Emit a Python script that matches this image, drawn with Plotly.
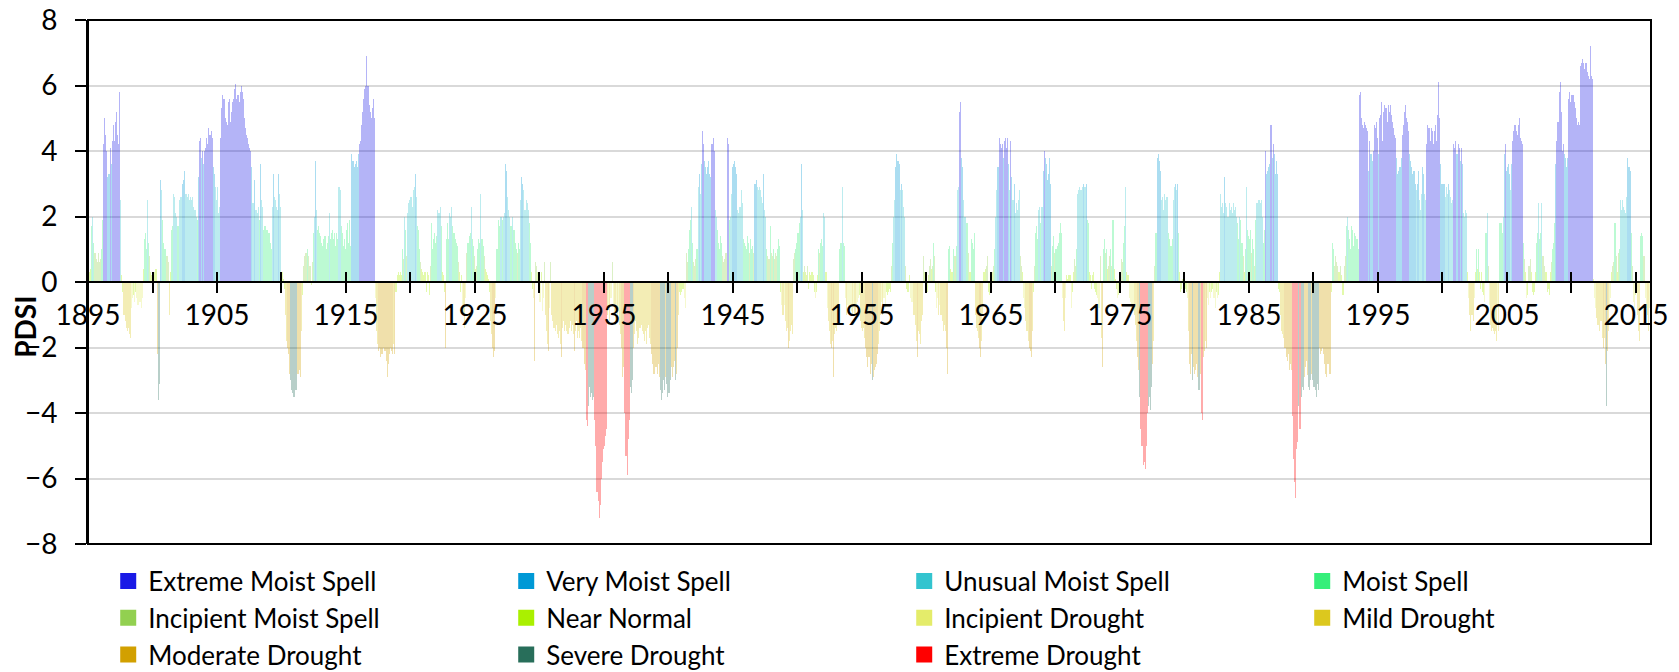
import numpy as np
import plotly.graph_objects as go

start_year = 1895

pdsi_1895_1904 = [
    0.2, 0.3, 0.4, 1.7, 2.0, 1.2, 0.9, 0.7, 0.6, 0.9, 0.6, 0.7,
    1.0, 1.9, 4.2, 5.0, 4.5, 4.0, 3.2, 3.3, 4.1, 3.6, 4.3, 4.8,
    4.3, 4.9, 5.2, 4.5, 4.2, 5.8, 2.5, 0.2, -0.3, -1.0, -1.2, -1.4,
    -1.5, -1.4, -1.6, -1.7, -0.8, -0.5, -0.4, -0.6, -0.3, -0.5, -0.7, -0.6,
    -0.6, -0.8, -0.5, 0.4, 1.3, 1.5, 1.0, 2.5, 1.2, 0.8, 0.3, 0.2,
    0.2, 0.3, 0.4, 0.4, -2.2, -3.6, -3.1, 3.1, 2.8, 1.9, 1.2, 1.0,
    1.0, 0.8, 0.6, -1.0, 0.3, 1.6, 1.7, 2.7, 2.6, 2.1, 2.0, 1.7,
    1.7, 2.5, 2.6, 3.0, 3.1, 3.4, 2.7, 2.7, 2.6, 2.7, 2.5, 2.6,
    2.5, 2.6, 2.3, 2.2, 2.0, 1.9, 3.2, 4.3, 4.4, 3.8, 4.0, 3.6,
    4.0, 4.1, 4.4, 4.2, 4.7, 4.5, 4.6, 4.4, 3.5, 3.3, 2.9, 2.5,
]
pdsi_1905_1914 = [
    2.9, 2.1, 2.3, 4.4, 5.3, 5.7, 5.6, 5.0, 4.9, 4.8, 5.5, 5.6,
    4.9, 5.2, 5.5, 5.6, 5.9, 6.05, 5.6, 5.7, 5.5, 5.8, 6.0, 5.8,
    5.6, 5.0, 4.7, 4.5, 4.4, 4.2, 4.1, 4.0, 3.5, 2.4, 3.1, 2.2,
    2.2, 2.1, 2.3, 1.9, 3.6, 2.5, 2.3, 1.6, 1.7, 1.7, 1.6, 1.5,
    1.5, 1.2, 1.0, 2.3, 3.3, 2.6, 2.5, 2.3, 2.2, 3.3, 2.7, 2.3,
    0.3, 0.1, -0.2, -1.0, -1.8, -2.0, -2.2, -2.8, -3.0, -3.3, -3.4, -3.5,
    -3.5, -3.3, -2.8, -2.8, -2.7, -2.9, -1.5, -0.4, 0.5, 0.8, 0.9, 0.9,
    1.0, 0.8, 0.5, -0.1, 0.6, 1.5, 2.0, 3.7, 2.2, 1.6, 1.7, 1.5,
    1.4, 1.2, 1.1, 1.3, 1.4, 1.0, 1.2, 1.4, 2.1, 1.3, 1.5, 1.6,
    1.3, 1.5, 1.1, 1.5, 1.3, 2.9, 2.8, 1.7, 1.5, 1.1, 1.3, 1.0,
]
pdsi_1915_1924 = [
    1.6, 1.8, 1.2, 1.9, 1.1, 3.9, 3.7, 3.5, 3.6, 3.7, 3.5, 3.9,
    4.2, 4.3, 4.8, 5.2, 5.6, 5.9, 6.0, 6.9, 6.0, 5.4, 5.2, 5.0,
    5.3, 5.6, 5.0, -0.5, -1.5, -1.9, -2.1, -2.0, -2.3, -2.2, -2.0, -2.1,
    -2.1, -2.4, -2.9, -2.5, -2.2, -2.0, -2.1, -2.2, -1.9, -2.2, -0.3, 0.2,
    0.3, 0.2, 0.3, 0.2, 1.0, 0.7, 2.0, 1.6, 0.8, 2.1, 2.4, 2.5,
    2.6, 2.3, 2.8, 2.9, 3.3, 2.6, 1.7, 1.6, 1.0, 0.6, 0.4, 0.3,
    0.2, 0.3, -0.3, 0.3, 0.2, -0.4, 0.5, 1.8, 1.0, 1.3, 1.5, 1.2,
    1.4, 2.2, 2.1, 2.3, 1.7, 0.3, 0.2, -0.3, -2.0, 1.3, 1.8, 1.3,
    2.1, 2.0, 2.3, 1.7, 1.5, 1.3, 1.2, 1.1, 0.6, 0.3, -0.3, 0.2,
    -0.9, -1.0, -1.4, -0.5, 0.9, 1.2, 1.4, 1.5, 2.3, 1.3, 1.1, 0.8,
]
pdsi_1925_1934 = [
    0.4, 0.5, 1.0, 1.3, 1.2, 2.7, 1.3, 1.1, 0.8, 0.4, 0.3, 0.2,
    0.1, -0.3, -1.2, -1.6, -2.0, -2.3, -2.1, -0.5, 1.0, 1.9, 1.7, 2.0,
    2.0, 1.9, 2.0, 2.1, 3.6, 3.4, 2.6, 2.2, 2.0, 1.7, 2.0, 1.6,
    1.6, 1.2, 1.0, 0.9, 1.2, 1.0, 2.5, 3.2, 3.0, 2.8, 2.2, 2.5,
    2.4, 2.2, 1.8, 1.2, 0.3, -0.2, -0.5, -2.4, 0.6, 0.5, 0.3, -0.2,
    -0.6, 0.3, -0.9, -0.5, 0.6, -1.0, -1.5, -1.9, -2.1, -0.8, 0.6, -1.0,
    -1.2, -1.4, -1.5, -1.3, -1.6, -1.7, -1.5, -1.9, -2.3, -1.4, -1.2, -1.5,
    -1.3, -1.5, -1.6, -1.4, -1.2, -1.5, -1.3, -1.6, -2.1, -1.5, -1.2, -1.7,
    -1.5, -1.7, -1.4, -1.8, -2.0, -2.5, -2.7, -4.2, -4.4, -3.8, -3.2, -3.5,
    -3.4, -3.6, -3.5, -4.2, -5.0, -6.4, -6.7, -7.2, -6.8, -6.0, -5.5, -5.1,
]
pdsi_1935_1944 = [
    -5.0, -4.7, -4.5, -1.0, -0.8, -1.2, -0.5, 0.6, -0.7, -1.0, -1.3, -0.9,
    -1.2, -0.9, -1.3, -1.6, -2.0, -2.9, -2.6, -4.0, -5.3, -5.9, -4.8, -4.2,
    -3.2, -3.4, -3.0, -2.0, -1.6, -1.2, -1.5, -1.9, -1.7, -1.4, -1.3, -1.5,
    -1.6, -1.8, -1.5, -1.9, -1.4, -1.3, -1.7, -1.9, -2.2, -2.5, -2.8, -2.6,
    -2.6, -2.8, -2.5, -2.9, -3.3, -3.6, -3.4, -3.0, -3.3, -2.9, -3.1, -3.5,
    -3.4, -3.0, -2.6, -2.9, -2.6, -2.4, -3.0, -2.8, -2.0, -1.0, -0.3, -0.4,
    -0.3, -0.2, -0.5, -0.8, 0.9, 0.6, 1.0, 1.6, 1.9, 2.3, 1.2, 0.6,
    0.5, 0.7, 1.0, 2.9, 3.3, 2.7, 3.6, 4.6, 4.2, 3.7, 3.5, 3.3,
    3.5, 3.7, 3.3, 3.2, 4.2, 4.4, 4.0, 2.2, 2.0, 1.6, 1.2, 1.0,
    1.4, 1.2, 0.8, 0.6, 0.7, 0.9, 4.4, 4.2, 1.9, 2.0, 2.7, 3.5,
]
pdsi_1945_1954 = [
    3.6, 3.7, 3.5, 3.3, 2.2, 2.1, 2.3, 2.8, 2.4, 1.3, 1.2, 1.1,
    1.0, 1.4, 1.2, 0.9, 1.3, 1.0, 1.1, 0.9, 3.0, 3.1, 2.9, 2.8,
    2.9, 2.8, 2.6, 2.4, 3.3, 2.2, 2.0, 1.0, 0.8, 0.7, 1.7, 0.9,
    0.8, 1.0, 0.7, 0.9, 0.8, 1.0, 1.3, 1.1, -0.3, -0.7, -1.0, -0.7,
    -1.2, -1.5, -1.4, -2.0, -1.8, -1.5, -1.3, -1.6, 0.7, 0.9, 1.0, 1.2,
    1.5, 1.8, 2.0, 3.6, 2.2, 0.3, 0.5, 0.3, 0.2, 0.5, -0.2, 0.3,
    0.2, 0.3, 0.2, -0.3, -0.5, -0.3, 0.2, 1.0, 0.9, 1.2, 1.3, 1.1,
    2.1, 2.0, 0.3, -0.8, -1.2, -1.5, -1.9, -2.0, -1.8, -2.9, -1.6, -1.4,
    -1.5, -1.2, -1.0, 1.0, 1.2, 2.9, 1.2, 1.1, -0.5, -1.0, -0.7, -0.8,
    -0.7, -0.8, -0.9, -1.0, -0.8, -1.0, -0.7, -0.6, -0.5, -0.4, -1.2, -1.4,
]
pdsi_1955_1964 = [
    -1.5, -1.4, -1.7, -2.0, -2.3, -2.6, -2.3, -2.8, -2.5, -3.0, -2.9, -2.7,
    -2.6, -2.5, -2.2, -1.9, -1.5, -1.0, -0.6, -1.0, -0.5, -0.8, -0.3, -0.4,
    -0.3, -0.2, -0.3, 0.5, 1.2, 2.0, 2.5, 3.5, 3.9, 3.7, 3.6, 2.8,
    3.0, 2.8, 2.3, 2.0, 0.5, -0.2, -0.3, -0.3, 0.2, -0.5, -0.6, -1.0,
    -1.0, -1.3, -1.8, -2.3, -1.5, -1.6, -1.9, -1.2, -1.0, 0.8, 0.3, -0.2,
    -0.3, 0.2, 0.5, 0.7, 0.4, 0.5, 1.2, 0.8, -0.3, -0.8, -0.5, -1.0,
    -0.7, -1.0, -1.2, -1.5, -1.3, -1.5, -2.0, -2.8, 1.0, 1.1, 0.4, 0.3,
    0.3, 1.0, 0.8, 1.1, 2.8, 2.9, 5.2, 5.5, 3.8, 3.5, 2.5, 2.0,
    2.0, 1.8, 1.8, 0.9, 0.3, 1.3, 1.2, 1.0, 1.5, -1.0, -1.4, -1.5,
    -1.7, -2.0, -2.3, -1.8, -1.0, 0.3, 0.4, 0.5, 0.8, -0.3, -0.4, -0.3,
]
pdsi_1965_1974 = [
    -0.3, 0.3, 0.5, 1.0, 2.0, 2.8, 3.5, 4.4, 4.2, 4.1, 4.2, 3.8,
    4.3, 4.4, 4.1, 4.4, 3.6, 2.8, 4.3, 3.2, 2.5, 3.0, 2.1, 2.4,
    2.2, 2.5, 2.8, 0.8, 0.5, 0.3, -0.5, -0.8, -1.2, -1.5, -1.8, -2.0,
    -2.1, -2.3, -1.5, -0.3, 0.5, 1.5, 1.7, 1.3, 2.2, 2.3, 1.8, 2.3,
    3.4, 4.0, 3.8, 3.6, 3.1, 3.3, 3.8, 3.0, 0.5, 1.1, 1.4, 0.9,
    1.0, 1.1, 1.2, 1.5, 1.8, 1.5, -0.5, -1.2, -1.5, -0.5, 0.2, 0.1,
    0.2, 0.2, -0.8, -0.3, 0.3, 0.7, 0.5, 1.0, 2.7, 2.8, 2.9, 2.8,
    2.8, 2.9, 3.0, 2.9, 3.0, 1.9, 1.8, 0.3, 0.2, -0.2, 0.2, 0.3,
    -0.2, -0.3, -0.4, -0.5, -0.8, 0.8, -1.7, -2.6, 1.0, 1.3, 0.9, 1.0,
    0.4, 0.5, 0.8, 1.0, 0.5, 1.9, 0.4, 0.1, -0.2, -0.5, -0.4, -0.3,
]
pdsi_1975_1984 = [
    0.3, 0.7, 0.6, 1.2, 1.7, 2.9, 0.3, 0.2, -0.5, -0.6, -0.8, -0.9,
    -0.9, -1.0, -1.3, -1.8, -2.3, -2.7, -3.5, -4.5, -5.0, -5.6, -5.5, -5.7,
    -5.0, -4.0, -3.8, -3.5, -3.9, -3.2, -2.5, -1.8, 0.5, 1.5, 3.8, 3.9,
    3.7, 3.4, 2.5, 2.6, 2.2, 2.7, 2.5, 2.6, 2.6, 1.5, 1.3, 1.1,
    1.3, 2.5, 2.9, 3.0, 2.8, 3.0, 1.5, 0.3, -0.3, -0.2, 0.1, -0.2,
    -0.2, -0.3, -0.5, -1.5, -2.5, -2.8, -2.2, -3.0, -2.6, -2.8, -2.7, -2.5,
    -2.9, -3.3, -2.8, -4.0, -4.2, -2.3, -2.1, -1.8, -2.0, -0.5, -0.7, -0.3,
    -0.5, -0.3, -0.2, -0.5, -0.8, -0.3, -0.5, -0.4, 0.3, 2.7, 2.3, 2.4,
    2.1, 3.2, 2.4, 2.3, 2.0, 2.4, 2.2, 2.3, 2.1, 2.4, 2.2, 2.3,
    2.0, 1.8, 1.3, 2.0, 1.9, 1.2, 0.8, 0.3, 1.0, 2.9, 1.6, 1.4,
]
pdsi_1985_1994 = [
    1.3, 1.6, 0.9, 1.3, 1.0, 0.5, 1.9, 2.4, 2.5, 2.5, 2.4, 2.5,
    2.0, 1.2, 1.6, 4.0, 3.3, 3.4, 3.5, 3.6, 4.8, 3.8, 4.2, 3.9,
    3.3, 3.7, 3.3, -0.2, -0.3, -1.0, -1.5, -1.6, -1.7, -2.0, -2.3, -2.4,
    -2.2, -2.7, -2.5, -2.7, -4.1, -5.4, -6.1, -6.6, -5.1, -4.9, -3.8, -4.5,
    -3.5, -3.2, -3.3, -2.9, -2.6, -2.4, -2.85, -3.2, -3.3, -3.0, -2.8, -3.0,
    -3.2, -3.3, -3.5, -3.1, -3.3, -2.0, -2.2, -2.1, -2.0, -2.2, -2.5, -2.8,
    -2.9, -2.5, -2.8, -2.8, -0.3, 1.2, 1.0, 0.5, 0.8, 0.6, 0.5, 0.3,
    0.3, 0.5, 0.2, -0.4, 0.5, 0.8, 1.7, 2.0, 1.6, 1.3, 1.0, 1.7,
    1.6, 1.1, 1.5, 1.4, 1.3, 1.0, 5.7, 5.8, 5.0, 4.8, 4.7, 4.9,
    4.8, 4.7, 4.6, 3.4, 4.3, 3.9, 3.7, 4.0, 4.8, 4.7, 4.9, 4.4,
]
pdsi_1995_2004 = [
    3.9, 5.0, 5.1, 5.5, 4.3, 5.2, 5.4, 5.3, 4.9, 5.4, 5.2, 5.4,
    5.1, 4.9, 4.7, 4.5, 4.4, 3.8, 3.3, 3.4, 3.5, 3.8, 4.5, 4.8,
    5.2, 5.4, 5.0, 4.9, 4.6, 3.9, 3.7, 3.5, 3.3, 3.4, 3.0, 2.8,
    3.0, 3.4, 2.5, 2.2, 2.7, 3.5, 3.3, 2.7, 2.5, 4.2, 4.8, 4.7,
    4.3, 4.7, 4.6, 4.2, 4.6, 4.8, 4.3, 5.1, 6.1, 5.0, 3.6, 3.0,
    3.0, 3.0, 2.6, 2.9, 2.7, 3.0, 2.8, 2.6, 2.4, 2.5, 4.2, 4.1,
    4.3, 3.9, 4.2, 4.1, 3.7, 4.1, 3.6, 2.1, 2.0, 2.2, 2.1, 0.3,
    -0.5, -1.0, -1.5, -1.0, -1.2, -0.5, 0.3, 1.0, 0.4, 1.0, 0.3, -0.2,
    0.3, -0.3, -0.4, -0.6, 1.5, 2.1, 0.5, -0.7, -1.3, -1.5, -1.4, -1.5,
    -1.6, -1.5, -1.8, -0.8, -1.5, 1.8, 1.8, 1.5, 2.0, 3.9, 4.2, 3.4,
]
pdsi_2005_2016 = [
    3.5, 3.6, 3.3, 2.8, 3.6, 4.3, 4.6, 4.8, 4.6, 4.5, 4.8, 5.0,
    4.4, 4.3, 4.2, 1.2, 0.7, 0.3, -0.5, -0.4, 0.5, 0.7, 0.3, -0.3,
    -0.4, -0.3, 0.3, 1.2, 1.5, 2.4, 1.3, 1.5, 2.4, 0.8, 0.5, 0.3,
    0.3, -0.3, -0.2, -0.4, 0.3, 0.6, 1.0, 1.2, 1.8, 3.6, 4.3, 4.9,
    5.8, 6.1, 5.2, 4.0, 4.2, 3.9, 3.8, 3.5, 3.8, 5.6, 5.8, 5.5,
    5.7, 5.7, 5.5, 5.3, 5.0, 4.8, 4.9, 4.8, 6.6, 6.7, 6.8, 6.7,
    6.5, 6.7, 6.4, 6.3, 6.2, 7.2, 6.3, 6.2, 0.1, -0.5, -0.8, -1.1,
    -1.3, -1.3, -1.5, -1.2, -1.7, -2.0, -1.7, -2.5, -3.8, -2.1, -1.5, -0.8,
    -0.5, 0.3, 0.5, 0.6, 1.8, 0.8, 0.3, 0.9, 1.0, 2.5, 2.2, 2.5,
    2.3, 2.2, 2.1, 2.6, 3.8, 3.5, 3.4, 1.5, 0.5, -0.6, -0.8, -0.4,
    0.3, -1.0, -1.5, -1.8, 1.4, 1.5, 1.4, 0.8, -0.5, -0.8, -1.0, -1.5,
    -0.8, -0.3,
]

categories = [
    "Extreme Moist Spell", "Very Moist Spell", "Unusual Moist Spell", "Moist Spell",
    "Incipient Moist Spell", "Near Normal", "Incipient Drought", "Mild Drought",
    "Moderate Drought", "Severe Drought", "Extreme Drought",
]
cat_colors = [
    "#1A1AE6", "#0099D6", "#33C4CF", "#35EF7A",
    "#92D050", "#AAF000", "#E4EC6A", "#DCC81E",
    "#D2A000", "#286E5A", "#FF0000",
]
x_tick_years = list(range(1895, 2016, 5))
x_tick_labels = [str(y) if (y - 1895) % 10 == 0 else "" for y in x_tick_years]
y_ticks = list(range(-8, 9, 2))

values = np.array(
    pdsi_1895_1904 + pdsi_1905_1914 + pdsi_1915_1924 + pdsi_1925_1934
    + pdsi_1935_1944 + pdsi_1945_1954 + pdsi_1955_1964 + pdsi_1965_1974
    + pdsi_1975_1984 + pdsi_1985_1994 + pdsi_1995_2004 + pdsi_2005_2016
)
n = len(values)
xpos = start_year + (np.arange(n) + 0.5) / 12.0
x_range = [start_year, start_year + n / 12.0]


def classify(v):
    if v >= 4:
        return 0
    if v >= 3:
        return 1
    if v >= 2:
        return 2
    if v >= 1:
        return 3
    if v >= 0.5:
        return 4
    if v > -0.5:
        return 5
    if v > -1:
        return 6
    if v > -2:
        return 7
    if v > -3:
        return 8
    if v > -4:
        return 9
    return 10


def rgba(hexc, a):
    h = hexc.lstrip("#")
    r, g, b = int(h[0:2], 16), int(h[2:4], 16), int(h[4:6], 16)
    return f"rgba({r},{g},{b},{a})"


bar_colors = [rgba(cat_colors[classify(v)], 0.33) for v in values]

fig = go.Figure()
fig.add_trace(go.Bar(
    x=xpos, y=values, width=1 / 12.0,
    marker=dict(color=bar_colors, line=dict(width=0)),
    showlegend=False, hoverinfo="skip",
))
for name, col in zip(categories, cat_colors):
    fig.add_trace(go.Scatter(
        x=[None], y=[None], mode="markers", name=name, xaxis="x2",
        marker=dict(symbol="square", size=18, color=col),
    ))

tick_font = dict(family="Lato, sans-serif", size=28, color="black")

fig.update_layout(
    width=1679, height=672,
    margin=dict(l=88, r=28, t=20, b=128, autoexpand=False),
    paper_bgcolor="white", plot_bgcolor="white",
    font=dict(family="Lato, sans-serif", size=26, color="black"),
    bargap=0,
    showlegend=True,
    legend=dict(
        orientation="h", x=-0.0005, xanchor="left", y=-0.026, yanchor="top",
        entrywidth=332, entrywidthmode="pixels", indentation=21,
        font=dict(family="Lato, sans-serif", size=26, color="black"),
        itemsizing="trace", bgcolor="rgba(0,0,0,0)",
    ),
    xaxis=dict(
        range=x_range, anchor="free", position=0.5,
        showline=True, linecolor="black", linewidth=2,
        ticks="outside", ticklen=10, tickwidth=2, tickcolor="black",
        tickmode="array", tickvals=x_tick_years, ticktext=x_tick_labels,
        showgrid=False, zeroline=False, ticklabelstandoff=-2, tickfont=tick_font,
    ),
    xaxis2=dict(
        range=x_range, overlaying="x", anchor="free", position=0.5, side="top",
        ticks="outside", ticklen=10, tickwidth=2, tickcolor="black",
        tickmode="array", tickvals=x_tick_years, showticklabels=False,
        showgrid=False, showline=False, zeroline=False,
    ),
    yaxis=dict(
        range=[-8, 8], tickmode="array", tickvals=y_ticks,
        ticks="outside", ticklen=11, tickwidth=2, tickcolor="black",
        showline=True, linecolor="black", linewidth=2,
        showgrid=True, gridcolor="#D9D9D9", gridwidth=2,
        zeroline=False, ticklabelstandoff=12, tickfont=tick_font,
    ),
    shapes=[dict(
        type="rect", xref="paper", yref="paper", x0=0, x1=1, y0=0, y1=1,
        line=dict(color="black", width=2), fillcolor="rgba(0,0,0,0)", layer="above",
    )],
    annotations=[dict(
        text="<b>PDSI</b>", xref="paper", yref="paper", x=-0.0405, y=0.414,
        textangle=-90, showarrow=False, xanchor="center", yanchor="middle",
        font=dict(family="Lato, sans-serif", size=28, color="black"),
    )],
)

fig.write_html("out.html")
